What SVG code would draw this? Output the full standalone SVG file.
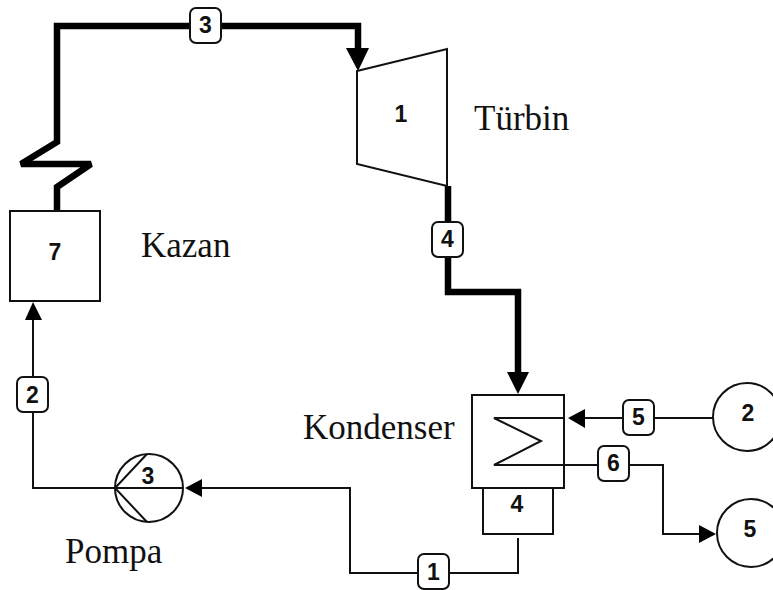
<svg xmlns="http://www.w3.org/2000/svg" width="773" height="590" viewBox="0 0 773 590">
<style>
.s{fill:#fff;stroke:#111;stroke-width:2}
.n{fill:none;stroke:#111;stroke-width:2}
.t{fill:none;stroke:#000;stroke-width:6.500;stroke-linejoin:miter;stroke-miterlimit:2}
.a{fill:#000;stroke:none}
.d{font-family:"Liberation Sans",Arial,sans-serif;font-weight:700;font-size:23px;fill:#111;text-anchor:middle}
.l{font-family:"Liberation Serif","Times New Roman",serif;font-size:35px;fill:#111}
.b{fill:#fff;stroke:#111;stroke-width:2}
</style>
<rect width="773" height="590" fill="#fff"/>
<g id="connectors">
<path class="t" d="M57 211V187L91 164H21L57 142V26H358V52"/>
<path class="a" d="M346 48H369L358 71Z"/>
<path class="t" d="M448 186V292H518V375"/>
<path class="a" d="M507 372H529L518 394Z"/>
<path class="n" d="M518 538V573H350V488H200"/>
<path class="a" d="M185 488L202 479V497Z"/>
<path class="n" d="M115 488H33V318"/>
<path class="a" d="M33 302L42 320H25Z"/>
<path class="n" d="M713 418H582"/>
<path class="a" d="M568 418L585 409V428Z"/>
<path class="n" d="M564 465H663V534H700"/>
<path class="a" d="M716 534L699 525V543Z"/>
</g>
<g id="node-turbine">
<path class="s" d="M357 71L447 49V186L357 164Z"/>
<text class="d" x="401" y="122">1</text>
<text class="l" x="474" y="130">Türbin</text>
</g>
<g id="node-kazan">
<rect class="s" x="10" y="211" width="90" height="90"/>
<text class="d" x="55" y="260">7</text>
<text class="l" x="141" y="257">Kazan</text>
</g>
<g id="node-kondenser">
<rect class="s" x="483" y="488" width="70" height="46"/>
<text class="d" x="517" y="512">4</text>
<rect class="n" x="472" y="395" width="92" height="93"/>
<path class="n" d="M564 418H494L541 441L494 465H564"/>
<text class="l" x="303" y="439">Kondenser</text>
</g>
<g id="node-pompa">
<circle class="s" cx="149" cy="488" r="34"/>
<path class="n" d="M147 454L115 488L147 522M115 488H183"/>
<text class="d" x="148" y="484">3</text>
<text class="l" x="65" y="563">Pompa</text>
</g>
<g id="node-source">
<circle class="s" cx="747" cy="417" r="34"/>
<text class="d" x="748" y="421">2</text>
</g>
<g id="node-sink">
<circle class="s" cx="751" cy="533" r="34"/>
<text class="d" x="750" y="537">5</text>
</g>
<g id="label-3"><rect class="b" x="190" y="8" width="31" height="35" rx="6"/><text class="d" x="205.500" y="33">3</text></g>
<g id="label-4"><rect class="b" x="432" y="222" width="31" height="35" rx="6"/><text class="d" x="447.500" y="247">4</text></g>
<g id="label-2"><rect class="b" x="17" y="377" width="31" height="35" rx="6"/><text class="d" x="32.500" y="403">2</text></g>
<g id="label-1"><rect class="b" x="418" y="554" width="31" height="35" rx="6"/><text class="d" x="433.500" y="580">1</text></g>
<g id="label-5"><rect class="b" x="623" y="400" width="31" height="35" rx="6"/><text class="d" x="638.500" y="425">5</text></g>
<g id="label-6"><rect class="b" x="598" y="446" width="31" height="35" rx="6"/><text class="d" x="613.500" y="471">6</text></g>
</svg>
